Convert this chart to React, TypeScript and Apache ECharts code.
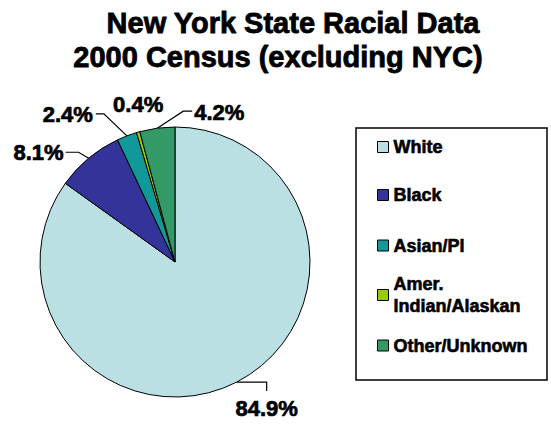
import React, { useEffect, useRef } from 'react';
import * as echarts from 'echarts';

const categories = ['White', 'Black', 'Asian/PI', 'Amer.\nIndian/Alaskan', 'Other/Unknown'];
const percentages = [84.9, 8.1, 2.4, 0.4, 4.2];
const colors = ['#BBE0E3', '#333399', '#119999', '#99CC00', '#339966'];
const titleLines = ['New York State Racial Data', '2000 Census (excluding NYC)'];

const FONT = '"Liberation Sans", Arial, Helvetica, sans-serif';

// label guide offsets relative to each slice's outer-edge anchor (layout only)
const labelGuides: any[] = [
  { line: [[30, 0], [30, 9]], label: [30, 26], align: 'center' },
  { line: [[-10, -6], [-23, -6]], label: [-25, -6], align: 'right' },
  { line: [[-23, -22], [-31, -22]], label: [-34, -21], align: 'right' },
  { line: [[0, 0], [0, 0]], label: [0, -28], align: 'center' },
  { line: [[26, -17], [35, -17]], label: [37, -16], align: 'left' },
];
const legendCenters = [147, 195, 245.5, 295, 345.5];
const titleCenters = [293, 278];
const titleTops = [8.5, 42];

export default function App() {
  const ref = useRef<HTMLDivElement>(null);
  useEffect(() => {
    if (!ref.current) return;
    const chart = echarts.init(ref.current, null, { renderer: 'svg' });
    const option: any = {
      animation: false,
      backgroundColor: '#fff',
      title: titleLines.map((t, i) => ({
        text: t,
        left: titleCenters[i],
        top: titleTops[i],
        textAlign: 'center',
        padding: 0,
        textStyle: {
          fontSize: 29, fontWeight: 'bold', fontFamily: FONT, color: '#000', lineHeight: 29,
          textBorderColor: '#000', textBorderWidth: 0.8,
        },
      })),
      legend: categories.map((name, i) => {
        const multi = name.indexOf('\n') >= 0;
        return {
          data: [name],
          orient: 'vertical',
          left: 377,
          top: legendCenters[i] - (multi ? 33 : 10),
          padding: 0,
          itemWidth: 11,
          itemHeight: 11,
          icon: 'rect',
          selectedMode: false,
          itemStyle: { borderColor: '#000', borderWidth: 1 },
          textStyle: {
            fontSize: 18,
            fontWeight: 'bold',
            fontFamily: FONT,
            color: '#000',
            textBorderColor: '#000',
            textBorderWidth: 0.6,
            lineHeight: multi ? 22 : 20,
            padding: multi ? [22, 0, 0, 0] : 0,
          },
        };
      }),
      graphic: [
        {
          type: 'rect',
          shape: { x: 356, y: 128, width: 191, height: 252 },
          style: { fill: 'none', stroke: '#000', lineWidth: 1.5 },
          z: 0,
        },
      ],
      series: [
        {
          type: 'pie',
          center: [175, 262],
          radius: 135,
          startAngle: 90,
          clockwise: true,
          avoidLabelOverlap: false,
          itemStyle: { borderColor: '#000', borderWidth: 1 },
          label: {
            show: true,
            position: 'outside',
            formatter: (p: any) => percentages[p.dataIndex].toFixed(1) + '%',
            fontSize: 22,
            fontWeight: 'bold',
            fontFamily: FONT,
            color: '#000',
            textBorderColor: '#000',
            textBorderWidth: 0.7,
          },
          labelLine: { show: true, length: 10, length2: 10, lineStyle: { color: '#000', width: 1.2 } },
          emphasis: { disabled: true },
          labelLayout: (params: any) => {
            const g = labelGuides[params.dataIndex];
            const pts = params.labelLinePoints;
            if (!g || !pts) return {};
            const ax = pts[0][0];
            const ay = pts[0][1];
            return {
              x: ax + g.label[0],
              y: ay + g.label[1],
              align: g.align,
              verticalAlign: 'middle',
              labelLinePoints: [
                [ax, ay],
                [ax + g.line[0][0], ay + g.line[0][1]],
                [ax + g.line[1][0], ay + g.line[1][1]],
              ],
            };
          },
          data: categories.map((name, i) => ({
            name,
            value: percentages[i],
            itemStyle: { color: colors[i] },
          })),
        },
      ],
    };
    chart.setOption(option);
    return () => chart.dispose();
  }, []);
  return (
    <div
      ref={ref}
      style={{ position: 'absolute', left: 0, top: 0, width: 551, height: 431 }}
    />
  );
}
